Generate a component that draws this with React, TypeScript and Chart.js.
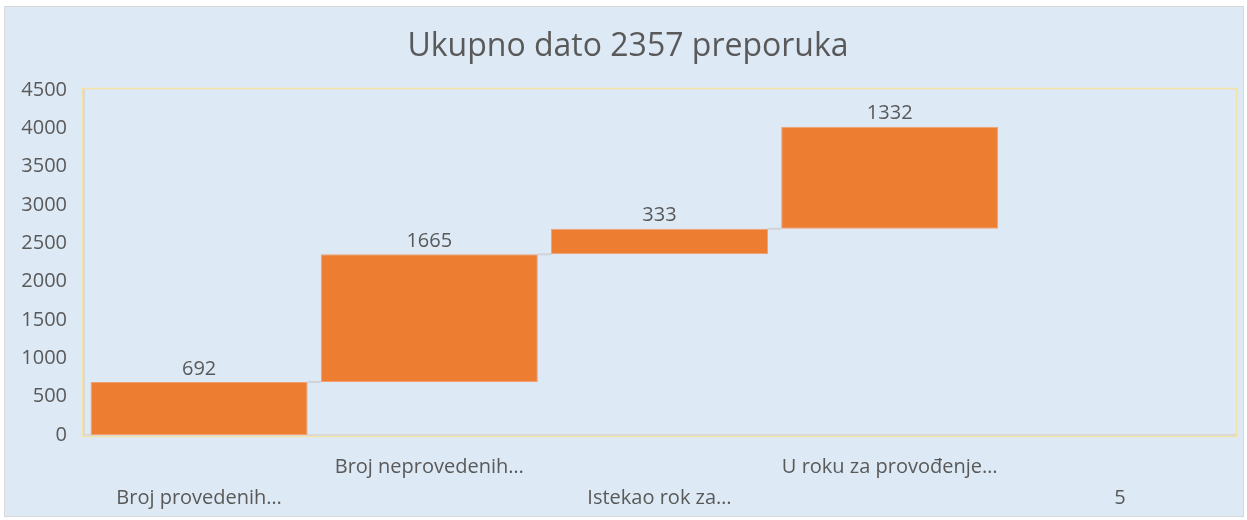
import { useEffect, useRef } from 'react';
import { Chart, registerables } from 'chart.js';
Chart.register(...registerables);

const chartTitle = 'Ukupno dato 2357 preporuka';
const categories = ['Broj provedenih…', 'Broj neprovedenih…', 'Istekao rok za…', 'U roku za provođenje…', '5'];
const values: (number | null)[] = [692, 1665, 333, 1332, null];
const yMin = 0;
const yMax = 4500;
const yStep = 500;

const TEXT = '#595959';
const FONT = '"Open Sans", "Noto Sans", sans-serif';

export default function App() {
  const ref = useRef<HTMLCanvasElement>(null);
  useEffect(() => {
    if (!ref.current) return;
    let acc = 0;
    const floating = values.map((v) => {
      if (v == null) return null;
      const r = [acc, acc + v];
      acc += v;
      return r;
    });

    const deco = {
      id: 'deco',
      beforeDraw(chart: any) {
        const { ctx, chartArea: a } = chart;
        ctx.save();
        ctx.strokeStyle = '#f3e4a6';
        ctx.lineWidth = 1.5;
        ctx.strokeRect(a.left - 1.5, a.top - 1.5, a.right - a.left + 3, a.bottom - a.top + 3);
        ctx.restore();
      },
      afterDatasetsDraw(chart: any) {
        const { ctx } = chart;
        const meta = chart.getDatasetMeta(0);
        const y = chart.scales.y;
        ctx.save();
        ctx.strokeStyle = '#d0d3d8';
        ctx.lineWidth = 2;
        for (let i = 0; i < meta.data.length - 1; i++) {
          const cur = floating[i];
          const nxt = floating[i + 1];
          if (!cur || !nxt) continue;
          const b1: any = meta.data[i];
          const b2: any = meta.data[i + 1];
          const yy = y.getPixelForValue(cur[1]);
          ctx.beginPath();
          ctx.moveTo(b1.x + b1.width / 2, yy);
          ctx.lineTo(b2.x - b2.width / 2, yy);
          ctx.stroke();
        }
        ctx.fillStyle = TEXT;
        ctx.font = `20px ${FONT}`;
        ctx.textAlign = 'center';
        ctx.textBaseline = 'bottom';
        meta.data.forEach((b: any, i: number) => {
          const v = values[i];
          const f = floating[i];
          if (v == null || !f) return;
          ctx.fillText(String(v), b.x, y.getPixelForValue(f[1]) - 3);
        });
        ctx.font = `32px ${FONT}`;
        ctx.textBaseline = 'middle';
        ctx.fillText(chartTitle, 628, 47);
        ctx.restore();
      },
    };

    const chart = new Chart(ref.current, {
      type: 'bar',
      data: {
        labels: categories,
        datasets: [
          {
            data: floating as any,
            backgroundColor: '#ed7d31',
            borderColor: '#f2a070',
            borderWidth: 1,
            borderSkipped: false,
            barPercentage: 0.943,
            categoryPercentage: 1,
          },
        ],
      },
      options: {
        responsive: false,
        animation: false,
        layout: { padding: { top: 90, right: 12, left: 0, bottom: 0 } },
        plugins: { legend: { display: false }, tooltip: { enabled: false }, title: { display: false } },
        scales: {
          x: {
            grid: { display: false },
            border: { display: true, color: '#d9d9d9', width: 2 },
            afterFit(scale: any) {
              scale.height = 85;
            },
            ticks: {
              color: TEXT,
              font: { family: FONT, size: 20, lineHeight: 1.55 },
              padding: 9,
              maxRotation: 0,
              minRotation: 0,
              autoSkip: false,
              callback(_v: any, i: number) {
                const l = categories[i];
                return i % 2 === 0 ? ['', l] : [l];
              },
            },
          },
          y: {
            min: yMin,
            max: yMax,
            grid: { display: false },
            border: { display: true, color: '#d9d9d9', width: 2 },
            afterFit(scale: any) {
              scale.width = 84;
            },
            ticks: {
              stepSize: yStep,
              color: TEXT,
              font: { family: FONT, size: 20 },
              padding: 9,
              callback(v: any) {
                return String(v);
              },
            },
          },
        },
      },
      plugins: [deco],
    });
    return () => chart.destroy();
  }, []);

  return (
    <div style={{ position: 'fixed', left: 0, top: 0, width: 1247, height: 520, background: '#ffffff' }}>
      <div
        style={{
          position: 'absolute',
          left: 4,
          top: 6,
          width: 1238,
          height: 509,
          background: '#dde9f5',
          border: '1px solid #d9d9d9',
        }}
      />
      <canvas ref={ref} width={1247} height={520} style={{ position: 'absolute', left: 0, top: 0, width: 1247, height: 520 }} />
    </div>
  );
}
